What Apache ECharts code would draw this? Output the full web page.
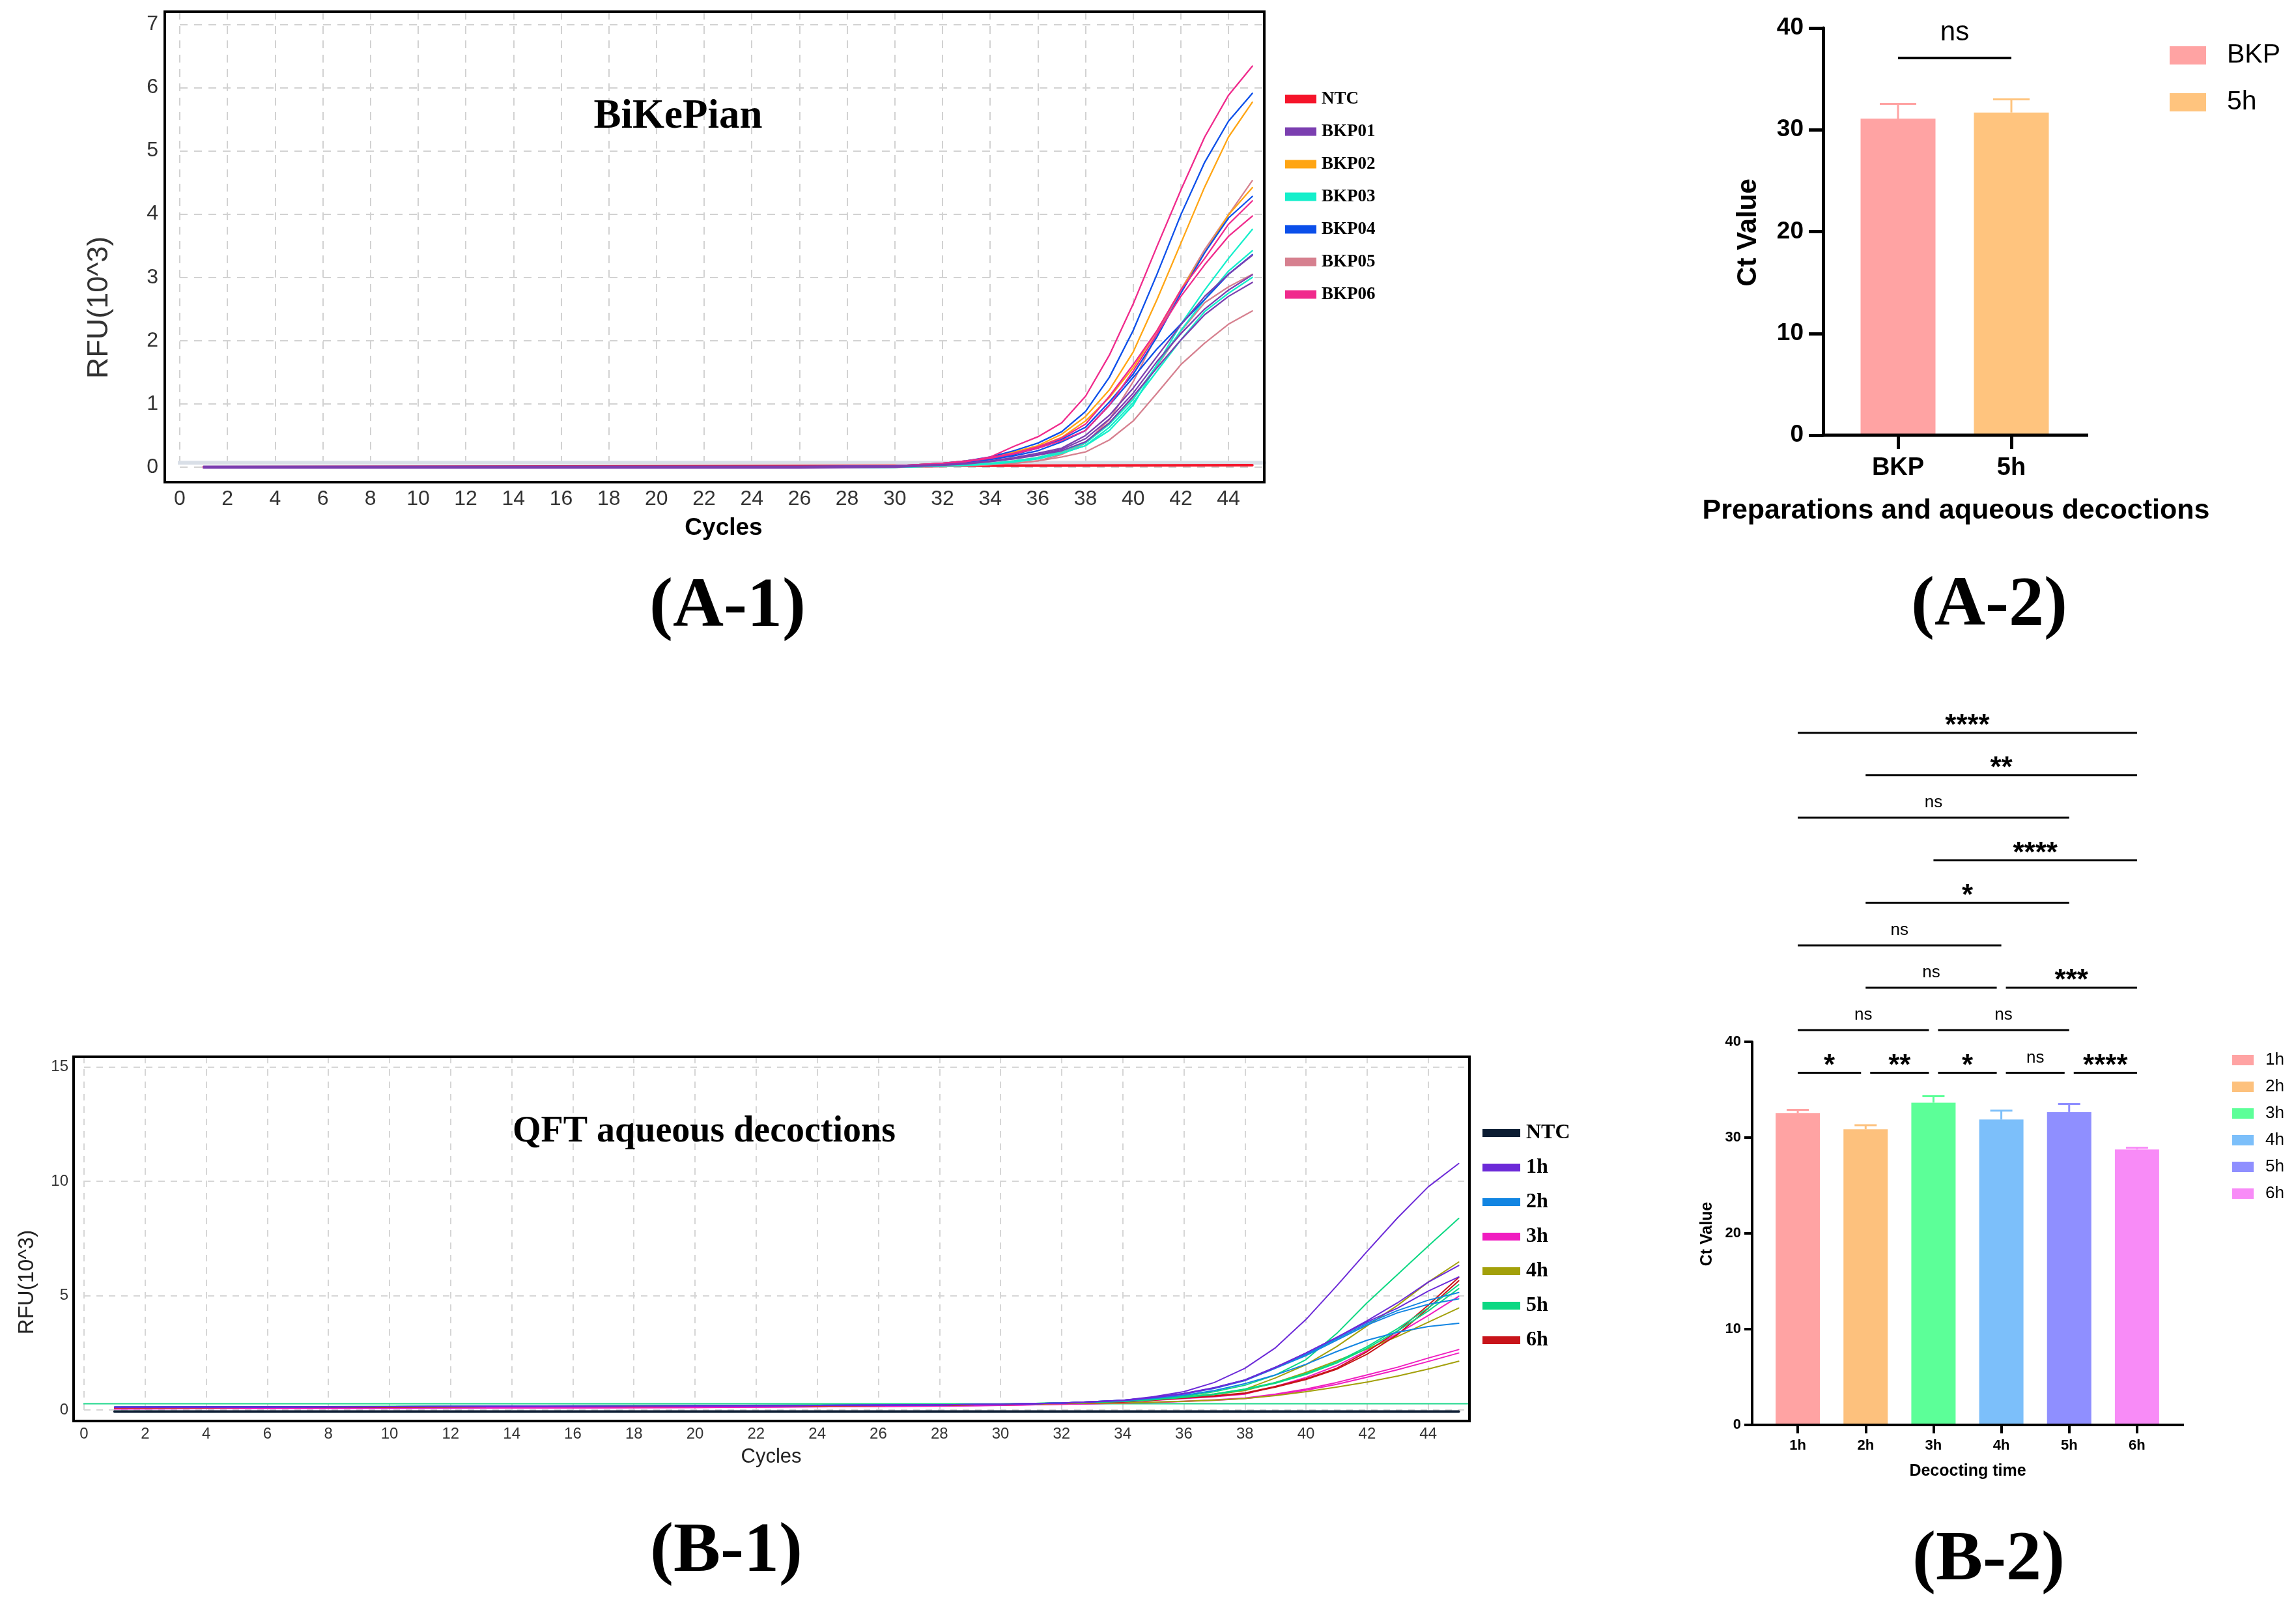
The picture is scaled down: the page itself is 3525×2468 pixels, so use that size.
<!DOCTYPE html>
<html><head><meta charset="utf-8">
<script src="https://cdn.jsdelivr.net/npm/echarts@6/dist/echarts.min.js"></script>
<style>
html,body{margin:0;padding:0;background:#fff;}
.c{position:absolute;left:0;top:0;width:3525px;height:2468px;}
</style></head><body>
<div id="a1" class="c"></div><div id="a2" class="c"></div><div id="b1" class="c"></div><div id="b2" class="c"></div>
<script>
// ================= DATA =================
// (A-1) BiKePian amplification curves
const cyclesA = [1, 26, 28, 30, 32, 33, 34, 35, 36, 37, 38, 39, 40, 41, 42, 43, 44, 45];
const ntcCyclesA = [1, 45];
const ntcValuesA = [0.0, 0.03];
const thresholdCyclesA = [-0.3, 45.5];
const thresholdValuesA = [0.07, 0.07];
const bkp01 = [
  [0.015,0.015,0.02,0.02,0.04,0.06,0.1,0.15,0.22,0.3,0.5,0.82,1.25,1.75,2.25,2.7,3.05,3.35],
  [0,0,0.005,0.01,0.04,0.06,0.09,0.14,0.2,0.28,0.45,0.76,1.17,1.67,2.11,2.5,2.8,3.04],
  [-0.015,-0.015,-0.01,0,0.03,0.05,0.09,0.13,0.19,0.26,0.4,0.7,1.12,1.57,2.01,2.41,2.7,2.92]
];
const bkp02 = [
  [-0.01,0,0,0.02,0.06,0.1,0.15,0.24,0.34,0.52,0.8,1.22,1.82,2.65,3.54,4.43,5.22,5.77],
  [-0.01,0,0,0.02,0.06,0.09,0.14,0.22,0.32,0.47,0.73,1.1,1.57,2.16,2.8,3.39,3.99,4.42]
];
const bkp03 = [
  [-0.01,-0.01,-0.01,0,0.02,0.03,0.05,0.08,0.13,0.22,0.34,0.58,0.98,1.62,2.26,2.8,3.3,3.76],
  [-0.01,-0.01,-0.01,0,0.02,0.04,0.06,0.1,0.15,0.25,0.38,0.68,1.07,1.62,2.16,2.65,3.1,3.42],
  [-0.01,-0.01,-0.01,0,0.02,0.03,0.05,0.09,0.14,0.22,0.34,0.63,1.02,1.52,2.01,2.46,2.75,3.0]
];
const bkp04 = [
  [-0.01,0,0,0.02,0.06,0.1,0.16,0.26,0.38,0.56,0.88,1.42,2.16,3.05,3.99,4.82,5.47,5.91],
  [-0.01,0,0,0.02,0.05,0.08,0.13,0.2,0.3,0.44,0.63,1.03,1.47,2.06,2.75,3.39,3.94,4.28],
  [-0.01,0,0,0.02,0.05,0.08,0.12,0.18,0.26,0.4,0.58,0.98,1.42,1.87,2.26,2.65,3.05,3.36]
];
const bkp05 = [
  [-0.01,-0.01,-0.01,0,0.01,0.02,0.04,0.06,0.1,0.2,0.38,0.75,1.35,2.1,2.8,3.44,3.99,4.53],
  [-0.01,-0.01,-0.01,0,0.02,0.03,0.06,0.1,0.15,0.24,0.38,0.7,1.1,1.6,2.15,2.6,2.85,3.05],
  [-0.01,-0.01,-0.01,0,0.01,0.02,0.04,0.06,0.1,0.16,0.24,0.43,0.73,1.17,1.62,1.96,2.26,2.47]
];
const bkp06 = [
  [-0.01,0,0,0.02,0.05,0.09,0.16,0.33,0.48,0.7,1.12,1.77,2.58,3.49,4.38,5.22,5.88,6.34],
  [-0.01,0,0,0.02,0.06,0.1,0.15,0.22,0.32,0.46,0.68,1.12,1.62,2.16,2.8,3.3,3.84,4.21],
  [-0.01,0,0,0.02,0.06,0.09,0.14,0.21,0.3,0.42,0.58,0.98,1.52,2.11,2.7,3.2,3.65,3.97]
];
const legendA1 = ['NTC','BKP01','BKP02','BKP03','BKP04','BKP05','BKP06'];

// (A-2) Ct values
const catsA2 = ['BKP', '5h'];
const meansA2 = [31.1, 31.7];
const errA2 = [1.45, 1.3];
const sigFromA2 = [0];
const sigToA2 = [1];
const sigLevelA2 = [37.06];
const sigLabelA2 = ['ns'];

// (B-1) QFT aqueous decoctions amplification curves
const cyclesB = [1, 10, 20, 28, 30, 32, 34, 35, 36, 37, 38, 39, 40, 41, 42, 43, 44, 45];
const ntcCyclesB = [1, 45];
const ntcValuesB = [-0.07, -0.07];
const thresholdCyclesB = [-0.25, 45.35];
const thresholdValuesB = [0.27, 0.27];
const h1 = [
  [0.12,0.14,0.18,0.22,0.25,0.3,0.42,0.58,0.8,1.2,1.82,2.72,3.96,5.42,6.94,8.41,9.76,10.78],
  [0.12,0.14,0.18,0.22,0.25,0.3,0.42,0.55,0.72,0.98,1.31,1.87,2.49,3.17,3.9,4.69,5.59,6.32],
  [0.12,0.14,0.18,0.22,0.25,0.3,0.41,0.54,0.7,0.96,1.3,1.85,2.49,3.17,3.85,4.46,5.2,5.82]
];
const h2 = [
  [0.12,0.14,0.18,0.22,0.25,0.3,0.42,0.55,0.72,0.96,1.31,1.87,2.43,3.11,3.79,4.35,4.8,5.14],
  [0.12,0.14,0.18,0.22,0.25,0.3,0.42,0.54,0.7,0.94,1.28,1.82,2.38,3.05,3.72,4.25,4.62,4.86],
  [0.12,0.14,0.18,0.22,0.25,0.3,0.4,0.5,0.64,0.85,1.15,1.53,2.0,2.55,3.05,3.4,3.65,3.79]
];
const h3 = [
  [0.05,0.08,0.12,0.18,0.21,0.26,0.34,0.42,0.5,0.58,0.69,1.03,1.42,1.93,2.6,3.34,4.13,4.97],
  [0.05,0.07,0.11,0.17,0.2,0.25,0.3,0.34,0.38,0.44,0.52,0.69,0.91,1.2,1.53,1.87,2.27,2.64],
  [0.05,0.07,0.11,0.17,0.2,0.25,0.29,0.33,0.37,0.42,0.5,0.65,0.86,1.12,1.43,1.76,2.12,2.49]
];
const h4 = [
  [0.1,0.13,0.17,0.21,0.24,0.29,0.37,0.45,0.56,0.7,0.9,1.4,1.98,2.77,3.68,4.58,5.59,6.47],
  [0.1,0.13,0.17,0.21,0.24,0.29,0.36,0.45,0.55,0.68,0.85,1.2,1.64,2.15,2.66,3.22,3.84,4.46],
  [0.1,0.13,0.17,0.21,0.24,0.28,0.3,0.34,0.38,0.43,0.5,0.63,0.8,1.0,1.22,1.48,1.79,2.13]
];
const h5 = [
  [0.12,0.15,0.19,0.23,0.26,0.31,0.38,0.47,0.6,0.8,1.08,1.53,2.2,3.34,4.69,5.93,7.17,8.38],
  [0.12,0.15,0.19,0.23,0.26,0.31,0.37,0.45,0.56,0.7,0.91,1.2,1.59,2.1,2.77,3.56,4.46,5.48],
  [0.12,0.15,0.19,0.23,0.26,0.31,0.37,0.45,0.55,0.68,0.88,1.17,1.55,2.05,2.7,3.46,4.33,5.31]
];
const h6 = [
  [0.1,0.13,0.17,0.21,0.24,0.3,0.36,0.44,0.53,0.62,0.74,1.03,1.36,1.82,2.55,3.45,4.58,5.8],
  [0.1,0.13,0.17,0.21,0.24,0.3,0.35,0.43,0.52,0.6,0.72,1.0,1.33,1.78,2.44,3.3,4.45,5.65]
];
const legendB1 = ['NTC','1h','2h','3h','4h','5h','6h'];

// (B-2) Ct values by decocting time
const catsB2 = ['1h','2h','3h','4h','5h','6h'];
const meansB2 = [32.56, 30.87, 33.64, 31.88, 32.66, 28.76];
const errB2 = [0.33, 0.43, 0.68, 0.94, 0.85, 0.19];
const sigFromB2  = [0,1,2,3,4, 0,2, 1,3, 0, 1, 2, 0, 1, 0];
const sigToB2    = [1,2,3,4,5, 2,4, 3,5, 3, 4, 5, 4, 5, 5];
const sigLevelB2 = [36.77,36.77,36.77,36.77,36.77, 41.22,41.22, 45.65,45.65, 50.07, 54.52, 58.94, 63.40, 67.84, 72.27];
const sigLabelB2 = ['*','**','*','ns','****', 'ns','ns', 'ns','***', 'ns', '*', '****', 'ns', '**', '****'];

// ================= STYLE / HELPERS =================
const SANS = 'Liberation Sans', SERIF = 'Liberation Serif';
const colA1 = {NTC:'#f5142a', BKP01:'#7b3fb0', BKP02:'#ffa513', BKP03:'#14efcb', BKP04:'#0b4fea', BKP05:'#d6808f', BKP06:'#f02a8c'};
const colB1 = {NTC:'#0c1d33', '1h':'#6c2ad8', '2h':'#1285e2', '3h':'#f01dc0', '4h':'#a3a00a', '5h':'#0cd883', '6h':'#c8141a'};
const colA2 = ['#ffa3a3', '#ffc47e'];
const colB2 = ['#ffa3a3', '#fdc17d', '#5cff98', '#7cbffa', '#8f8fff', '#f88bf7'];

function mkLine(name, color, xs, ys, width) {
  return {type:'line', name: name, data: xs.map((x,i)=>[x, ys[i]]), showSymbol:false, symbol:'none',
    smooth:false, clip:false, silent:true, animation:false,
    lineStyle:{color:color, width:width, join:'round', cap:'round'}, itemStyle:{color:color}};
}
function intLabel(v){ return Math.abs(v - Math.round(v)) < 1e-9 ? String(Math.round(v)) : ''; }
function txt(text, x, y, font, opts) {
  opts = opts || {};
  return {type:'text', x:x, y:y, rotation: opts.rot || 0, z:100,
    style:{text:text, font:font, fill: opts.fill || '#000', align:'center', verticalAlign:'middle'}};
}
function errorSeries(means, errs, colors, capHalf, lw) {
  return {type:'custom', name:'', clip:false, z:10, silent:true,
    data: means.map((m,i)=>[i, m, errs[i]]),
    renderItem: function(params, api){
      const i = api.value(0), m = api.value(1), e = api.value(2);
      const p0 = api.coord([i, m]), p1 = api.coord([i, m + e]);
      const c = colors[params.dataIndex];
      return {type:'group', children:[
        {type:'line', shape:{x1:p0[0], y1:p0[1], x2:p1[0], y2:p1[1]}, style:{stroke:c, lineWidth:lw}},
        {type:'line', shape:{x1:p1[0]-capHalf, y1:p1[1], x2:p1[0]+capHalf, y2:p1[1]}, style:{stroke:c, lineWidth:lw}}
      ]};
    }};
}
function bracketSeries(from, to, level, labels, o) {
  return {type:'custom', name:'', clip:false, z:10, silent:true,
    data: from.map((f,i)=>[f, level[i]]),
    renderItem: function(params, api){
      const i = params.dataIndex;
      const a = api.coord([from[i], level[i]]), b = api.coord([to[i], level[i]]);
      let x1 = a[0], x2 = b[0];
      for (let j = 0; j < from.length; j++) {
        if (j === i || level[j] !== level[i]) continue;
        if (to[j] === from[i]) x1 += o.gap;
        if (from[j] === to[i]) x2 -= o.gap;
      }
      const lab = labels[i], isNs = lab === 'ns';
      return {type:'group', children:[
        {type:'line', shape:{x1:x1, y1:a[1], x2:x2, y2:a[1]}, style:{stroke:'#000', lineWidth:o.lw}},
        {type:'text', x:(x1+x2)/2, y:a[1] - (isNs ? o.nsOff : o.starOff),
          style:{text:lab, fill:'#000', align:'center', verticalAlign:'middle',
            font: isNs ? o.nsFont : o.starFont}}
      ]};
    }};
}
const gridBase = {containLabel:false, outerBoundsMode:'none'};

// ================= (A-1) =================
const seriesA1 = [];
seriesA1.push(mkLine('', '#d9dfe7', thresholdCyclesA, thresholdValuesA, 6));
seriesA1.push(mkLine('NTC', colA1.NTC, ntcCyclesA, ntcValuesA, 4));
[['BKP05',bkp05],['BKP03',bkp03],['BKP02',bkp02],['BKP04',bkp04],['BKP06',bkp06],['BKP01',bkp01]].forEach(function(g){
  g[1].forEach(function(r){ seriesA1.push(mkLine(g[0], colA1[g[0]], cyclesA, r, 2.3)); });
});
const gridLineStyle = {color:'#d2d2d2', width:2, type:[12,10]};
const optA1 = {
  animation:false,
  grid: Object.assign({left:276, top:18, width:1665, height:699}, gridBase),
  xAxis:{type:'value', min:0, max:45.5, interval:2, offset:23,
    axisLine:{show:false}, axisTick:{show:false},
    axisLabel:{fontFamily:SANS, fontSize:32, color:'#333', margin:10, formatter:intLabel, showMaxLabel:false},
    splitLine:{show:true, lineStyle:gridLineStyle}},
  yAxis:{type:'value', min:0, max:7.2, interval:1, offset:23,
    axisLine:{show:false}, axisTick:{show:false},
    axisLabel:{fontFamily:SANS, fontSize:32, color:'#333', margin:10, formatter:intLabel, showMaxLabel:false},
    splitLine:{show:true, lineStyle:gridLineStyle}},
  legend:{data:legendA1, orient:'vertical', left:1968, top:133, icon:'rect', itemWidth:48, itemHeight:13, itemGap:22,
    selectedMode:false,
    textStyle:{fontFamily:SERIF, fontWeight:'bold', fontSize:27, lineHeight:28, color:'#000', padding:[0,0,0,3]}},
  graphic:[
    {type:'rect', shape:{x:253, y:18, width:1688, height:722}, style:{fill:'none', stroke:'#000', lineWidth:4}, z:50},
    txt('BiKePian', 1041, 180, 'bold 63px "Liberation Serif"'),
    txt('RFU(10^3)', 153, 472, '45px "Liberation Sans"', {rot:Math.PI/2, fill:'#333'}),
    txt('Cycles', 1111, 811, 'bold 37px "Liberation Sans"'),
    txt('(A-1)', 1117, 933, 'bold 108px "Liberation Serif"')
  ],
  series: seriesA1
};

// ================= (A-2) =================
const optA2 = {
  animation:false,
  grid: Object.assign({left:2827, top:43, width:348, height:625}, gridBase),
  xAxis:{type:'category', data:catsA2, axisLine:{show:false},
    axisTick:{show:true, alignWithLabel:true, length:21, lineStyle:{width:5, color:'#000'}},
    axisLabel:{fontFamily:SANS, fontWeight:'bold', fontSize:38, color:'#000', margin:32}},
  yAxis:{type:'value', min:0, max:40, interval:10, offset:28,
    axisLine:{show:true, lineStyle:{width:5, color:'#000'}},
    axisTick:{show:true, length:22, lineStyle:{width:5, color:'#000'}},
    axisLabel:{fontFamily:SANS, fontWeight:'bold', fontSize:37, color:'#000', margin:30},
    splitLine:{show:false}},
  legend:{data:catsA2, orient:'vertical', left:3326, top:58, icon:'rect', itemWidth:56, itemHeight:28, itemGap:28,
    selectedMode:false,
    textStyle:{fontFamily:SANS, fontSize:41, lineHeight:44, color:'#000', padding:[0,0,0,27]}},
  graphic:[
    {type:'line', shape:{x1:2797, y1:668, x2:3206, y2:668}, style:{stroke:'#000', lineWidth:5}, z:50},
    txt('Ct Value', 2684, 357, 'bold 42px "Liberation Sans"', {rot:Math.PI/2}),
    txt('Preparations and aqueous decoctions', 3003, 784, 'bold 43px "Liberation Sans"'),
    txt('(A-2)', 3054, 931, 'bold 108px "Liberation Serif"')
  ],
  series: catsA2.map(function(c,i){
    return {type:'bar', name:c, data: catsA2.map(function(_,j){ return j===i ? meansA2[i] : '-'; }),
      barWidth:115, barGap:'-100%', itemStyle:{color:colA2[i]}, silent:true};
  }).concat([
    errorSeries(meansA2, errA2, colA2, 28, 3),
    bracketSeries(sigFromA2, sigToA2, sigLevelA2, sigLabelA2,
      {gap:6, lw:4, nsOff:39, starOff:10, nsFont:'42px "Liberation Sans"', starFont:'bold 44px "Liberation Sans"'})
  ])
};

// ================= (B-1) =================
const seriesB1 = [];
seriesB1.push(mkLine('', '#1ed88c', thresholdCyclesB, thresholdValuesB, 2));
seriesB1.push(mkLine('NTC', colB1.NTC, ntcCyclesB, ntcValuesB, 4));
[['3h',h3],['4h',h4],['6h',h6],['5h',h5],['2h',h2],['1h',h1]].forEach(function(g){
  g[1].forEach(function(r){ seriesB1.push(mkLine(g[0], colB1[g[0]], cyclesB, r, 2)); });
});
const optB1 = {
  animation:false,
  grid: Object.assign({left:129, top:1622, width:2127, height:542}, gridBase),
  xAxis:{type:'value', min:0, max:45.35, interval:2, offset:17,
    axisLine:{show:false}, axisTick:{show:false},
    axisLabel:{fontFamily:SANS, fontSize:24, color:'#333', margin:8, formatter:intLabel, showMaxLabel:false},
    splitLine:{show:true, lineStyle:{color:'#d6d6d6', width:2, type:[10,9]}}},
  yAxis:{type:'value', min:0, max:15.45, interval:5, offset:16,
    axisLine:{show:false}, axisTick:{show:false},
    axisLabel:{fontFamily:SANS, fontSize:24, color:'#333', margin:8, formatter:intLabel, showMaxLabel:false},
    splitLine:{show:true, lineStyle:{color:'#d6d6d6', width:2, type:[10,9]}}},
  legend:{data:legendB1, orient:'vertical', left:2271, top:1717, icon:'rect', itemWidth:58, itemHeight:12, itemGap:19,
    selectedMode:false,
    textStyle:{fontFamily:SERIF, fontWeight:'bold', fontSize:32, lineHeight:34, color:'#000', padding:[0,0,0,4]}},
  graphic:[
    {type:'rect', shape:{x:113, y:1622, width:2143, height:559}, style:{fill:'none', stroke:'#000', lineWidth:4}, z:50},
    txt('QFT aqueous decoctions', 1081, 1738, 'bold 56px "Liberation Serif"'),
    txt('RFU(10^3)', 42, 1968, '33px "Liberation Sans"', {rot:Math.PI/2, fill:'#222'}),
    txt('Cycles', 1184, 2236, '31px "Liberation Sans"', {fill:'#222'}),
    txt('(B-1)', 1115, 2383, 'bold 108px "Liberation Serif"')
  ],
  series: seriesB1
};

// ================= (B-2) =================
const optB2 = {
  animation:false,
  grid: Object.assign({left:2708, top:1599, width:625, height:588}, gridBase),
  xAxis:{type:'category', data:catsB2, axisLine:{show:false},
    axisTick:{show:true, alignWithLabel:true, length:13, lineStyle:{width:4, color:'#000'}},
    axisLabel:{fontFamily:SANS, fontWeight:'bold', fontSize:22, color:'#000', margin:21}},
  yAxis:{type:'value', min:0, max:40, interval:10, offset:18,
    axisLine:{show:true, lineStyle:{width:4, color:'#000'}},
    axisTick:{show:true, length:12, lineStyle:{width:4, color:'#000'}},
    axisLabel:{fontFamily:SANS, fontWeight:'bold', fontSize:22, color:'#000', margin:17},
    splitLine:{show:false}},
  legend:{data:catsB2, orient:'vertical', left:3422, top:1609, icon:'rect', itemWidth:33, itemHeight:16, itemGap:15,
    selectedMode:false,
    textStyle:{fontFamily:SANS, fontSize:26, lineHeight:26, color:'#000', padding:[0,0,0,13]}},
  graphic:[
    {type:'line', shape:{x1:2688, y1:2187, x2:3353, y2:2187}, style:{stroke:'#000', lineWidth:4}, z:50},
    txt('Ct Value', 2621, 1894, 'bold 25px "Liberation Sans"', {rot:Math.PI/2}),
    txt('Decocting time', 3021, 2258, 'bold 25px "Liberation Sans"'),
    txt('(B-2)', 3053, 2396, 'bold 108px "Liberation Serif"')
  ],
  series: catsB2.map(function(c,i){
    return {type:'bar', name:c, data: catsB2.map(function(_,j){ return j===i ? meansB2[i] : '-'; }),
      barWidth:68, barGap:'-100%', itemStyle:{color:colB2[i]}, silent:true};
  }).concat([
    errorSeries(meansB2, errB2, colB2, 17, 3),
    bracketSeries(sigFromB2, sigToB2, sigLevelB2, sigLabelB2,
      {gap:7, lw:3, nsOff:23, starOff:10, nsFont:'26px "Liberation Sans"', starFont:'bold 44px "Liberation Sans"'})
  ])
};

[['a1',optA1],['a2',optA2],['b1',optB1],['b2',optB2]].forEach(function(p){
  const ch = echarts.init(document.getElementById(p[0]), null, {renderer:'canvas', width:3525, height:2468});
  ch.setOption(p[1]);
});
</script>
</body></html>
